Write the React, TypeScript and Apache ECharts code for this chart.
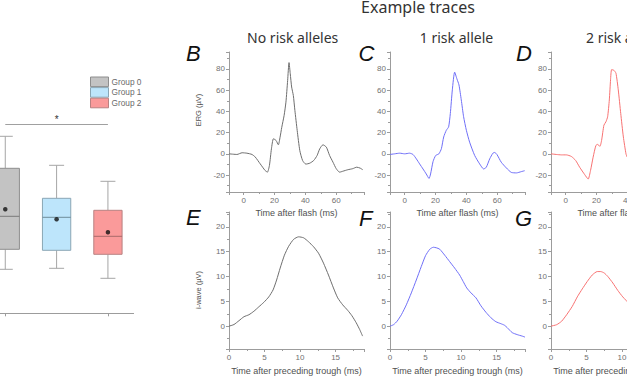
import React, { useEffect, useRef } from "react";
import * as echarts from "echarts";

// ---------- Data ----------
const groupNames = ["Group 0", "Group 1", "Group 2"];
// [lower whisker, Q1, median, Q3, upper whisker]
const boxStats: number[][] = [
  [4.4, 6.4, 9.7, 14.5, 17.7],
  [4.5, 6.3, 9.6, 11.5, 14.8],
  [3.5, 5.9, 7.7, 10.3, 13.2],
];
const groupMeans = [10.4, 9.4, 8.1];
const sigLevel = 18.9;

// ERG traces: [time after flash (ms), ERG (µV)]
const noRiskERG: number[][] = [
  [-9.5, 0], [-4.3, -0.6], [-1, 1], [2.1, 0.6], [5.4, -0.6], [7.5, -3], [10.7, -9.4], [13.9, -15.7],
  [15.4, -17.3], [16.7, -11], [18, 4.7], [19.3, 14.2], [21, 12.6], [22.5, 8.5], [23.6, 15.7],
  [24.7, 25], [26.2, 36], [27.4, 48.7], [28.5, 69], [29.4, 86], [30.2, 75.5], [31.1, 63],
  [32.2, 55], [33.2, 41], [34.7, 22], [36.4, 3], [38.2, -6.3], [40.3, -9.7], [42.9, -8.8],
  [45.4, -6.3], [47.6, -1.6], [49.3, 4.7], [51.4, 8.5], [53.6, 6.3], [55.7, -1.6], [57.9, -7.9],
  [60, -14], [62.2, -17.3], [64.3, -16.4], [67.5, -15], [70.7, -14], [73.3, -12.6], [75.5, -13.5],
  [77.2, -15],
];
const oneRiskERG: number[][] = [
  [-9.5, -0.6], [-6.5, 0], [-3.2, 0.6], [0, 0], [3.2, 0.6], [5.4, -0.6], [7.6, -4.8], [9.7, -9.5],
  [11.9, -14.3], [14, -19], [15.8, -23.2], [16.8, -19], [18.4, -7.3], [20.1, -1.6], [22.2, 0],
  [23.8, 4.8], [25.3, 15.9], [27, 22.2], [28.5, 25.4], [29.6, 38], [30.9, 60.3], [32.4, 77],
  [33.9, 70.5], [35.2, 65], [36.7, 50.8], [38.2, 35], [40, 22.2], [42.1, 11], [45.4, -1.6],
  [48.6, -9.5], [51.2, -14.3], [52.9, -12.7], [55.1, -4.8], [57.2, 0.6], [58.3, 1.3], [59.8, -0.6],
  [62.6, -7.9], [65.9, -13.3], [69.1, -17.5], [72.4, -18], [75.6, -16.8], [77.8, -15.9],
];
const twoRiskERG: number[][] = [
  [-9.5, 0], [-6.1, -0.6], [-2.8, -1], [0.4, -1], [3.7, -2.5], [6.5, -6.3], [9.1, -12.7],
  [12.4, -19.7], [14.6, -23.8], [16.1, -15.9], [17.8, -3.2], [19.6, 7.9], [20.7, 8.9], [22.2, 7],
  [23.3, 12.7], [24.8, 27], [26.1, 30.2], [27.2, 34.9], [28.3, 50.8], [29.1, 69.8], [29.8, 79.4],
  [31.3, 78.7], [32.6, 76], [34.1, 60.3], [35.7, 38], [37.4, 15.9], [39.1, 0], [39.8, -3],
];

// i-wave traces: [time after preceding trough (ms), i-wave (µV)]
const noRiskIwave: number[][] = [
  [0, 0], [0.7, 0.33], [1.4, 1.1], [2.1, 1.9], [2.8, 2.3], [3.5, 3], [4.2, 3.9], [4.9, 4.8],
  [5.6, 5.9], [6.2, 7.3], [6.7, 9.3], [7.2, 11.7], [7.8, 14.3], [8.4, 16.1], [9.1, 17.5],
  [9.8, 18], [10.5, 17.8], [11.2, 17], [11.9, 16], [12.6, 14.7], [13.3, 12.7], [14, 10.3],
  [14.7, 7.7], [15.3, 5.7], [16, 4.3], [16.7, 3.2], [17.3, 2.1], [17.9, 0.7], [18.4, -0.7],
  [18.8, -2],
];
const oneRiskIwave: number[][] = [
  [0, 0], [0.5, 0.3], [1, 1], [1.6, 2.3], [2.3, 4.3], [3, 6.7], [3.7, 9.3], [4.4, 12], [5, 14.2],
  [5.6, 15.5], [6.1, 15.9], [6.5, 15.8], [7, 15.5], [7.7, 14.3], [8.4, 13], [9.1, 11.7],
  [9.8, 10.3], [10.3, 9], [10.8, 7.7], [11.4, 6.7], [12.1, 5.7], [12.8, 4.1], [13.5, 2.8],
  [14.2, 1.7], [14.9, 0.9], [15.6, 0.5], [16.1, 0.2], [16.5, -0.3], [17.2, -1.3], [17.9, -1.7],
  [18.6, -2], [19, -2.2],
];
const twoRiskIwave: number[][] = [
  [0, 0], [0.8, 0.3], [1.5, 1], [2.2, 2.3], [3, 4], [3.7, 5.9], [4.4, 7.5], [5.1, 9], [5.8, 10.3],
  [6.5, 11], [7, 11], [7.5, 10.7], [8, 10], [8.7, 8.7], [9.4, 7.2], [10.1, 5.9], [10.9, 4.7],
];

const ergTicks = { min: -36, max: 96, step: 20 };
const ergTime = { min: -9.5, max: 78, step: 20 };
const iwaveTicks = { min: -4.6, max: 23, step: 5 };
const iwaveTime = { min: 0, max: 19, step: 5 };

// ---------- Styles ----------
const AXIS = "#9c9c9c";
const LABEL = "#707070";
const SANS = "'Liberation Sans', Arial, sans-serif";
const TITLE_FONT = "'Noto Sans', 'Open Sans', sans-serif";
// The figure is cropped on both sides: the chart canvas extends beyond the visible window.
const OFF = 40;
const CANVAS_W = 780;

const boxColors = [
  { fill: "#c3c3c3", stroke: "#8e8e8e", median: "#7a7a7a" },
  { fill: "#bde5fb", stroke: "#8aa6b4", median: "#6f8c9a" },
  { fill: "#fa9a9a", stroke: "#b88282", median: "#a86a6a" },
];

function stepFormatter(step: number) {
  return (v: number) => {
    const r = v / step;
    return Math.abs(r - Math.round(r)) < 1e-6 ? String(Math.round(v)) : "";
  };
}

function valueAxis(gridIndex: number, range: { min: number; max: number; step: number }, name?: string) {
  return {
    type: "value",
    gridIndex,
    min: range.min,
    max: range.max,
    minInterval: range.step,
    maxInterval: range.step,
    splitNumber: 6,
    name: name,
    nameLocation: "middle",
    nameGap: 16,
    nameTextStyle: { fontSize: 9, color: "#505050", fontFamily: SANS },
    axisLine: { show: true, onZero: false, lineStyle: { color: AXIS, width: 1 } },
    axisTick: { show: true, inside: false, length: 3, lineStyle: { color: AXIS } },
    minorTick: { show: true, splitNumber: 2, length: 2, lineStyle: { color: AXIS } },
    splitLine: { show: false },
    minorSplitLine: { show: false },
    axisLabel: {
      color: LABEL,
      fontSize: 8,
      fontFamily: SANS,
      margin: 4,
      formatter: stepFormatter(range.step),
    },
  };
}

export default function App() {
  const ref = useRef<HTMLDivElement>(null);

  useEffect(() => {
    if (!ref.current) return;
    const chart = echarts.init(ref.current, undefined, { renderer: "svg" });

    const colLeft = [229 + OFF, 390 + OFF, 551 + OFF];
    const grids: any[] = [
      { left: -20.4 + OFF, top: 13.3, width: 154, height: 300 },
    ];
    colLeft.forEach((l) => grids.push({ left: l, top: 52, width: 135, height: 140 }));
    colLeft.forEach((l) => grids.push({ left: l, top: 212, width: 135, height: 138 }));

    const xAxes: any[] = [
      {
        type: "category",
        gridIndex: 0,
        data: groupNames,
        boundaryGap: true,
        axisLine: { show: true, lineStyle: { color: AXIS, width: 1 } },
        axisTick: { show: true, alignWithLabel: true, length: 3, lineStyle: { color: AXIS } },
        axisLabel: { show: false },
      },
    ];
    const yAxes: any[] = [
      { type: "value", gridIndex: 0, min: 0, max: 30, show: false, splitLine: { show: false } },
    ];
    for (let i = 0; i < 3; i++) {
      xAxes.push(valueAxis(1 + i, ergTime, "Time after flash (ms)"));
      yAxes.push(valueAxis(1 + i, ergTicks));
    }
    for (let i = 0; i < 3; i++) {
      const ax: any = valueAxis(4 + i, iwaveTime, "Time after preceding trough (ms)");
      ax.nameGap = 17;
      xAxes.push(ax);
      yAxes.push(valueAxis(4 + i, iwaveTicks));
    }

    const traces = [
      { data: noRiskERG, color: "#6e6e6e" },
      { data: oneRiskERG, color: "#6f6ff7" },
      { data: twoRiskERG, color: "#f77272" },
      { data: noRiskIwave, color: "#6e6e6e" },
      { data: oneRiskIwave, color: "#6f6ff7" },
      { data: twoRiskIwave, color: "#f77272" },
    ];

    const boxSeries = groupNames.map((name, i) => ({
      type: "custom",
      name,
      xAxisIndex: 0,
      yAxisIndex: 0,
      itemStyle: { color: boxColors[i].fill, borderColor: boxColors[i].stroke },
      data: [[i, ...boxStats[i]]],
      encode: { x: 0, y: [1, 2, 3, 4, 5] },
      renderItem: (_p: any, api: any) => {
        const c = api.value(0);
        const pLo = api.coord([c, api.value(1)]);
        const pQ1 = api.coord([c, api.value(2)]);
        const pMed = api.coord([c, api.value(3)]);
        const pQ3 = api.coord([c, api.value(4)]);
        const pHi = api.coord([c, api.value(5)]);
        const x = pLo[0];
        const bw = 28.3;
        const cw = 15;
        const wStyle = { stroke: "#a6a6a6", lineWidth: 1 };
        return {
          type: "group",
          children: [
            { type: "line", shape: { x1: x, y1: pHi[1], x2: x, y2: pQ3[1] }, style: wStyle },
            { type: "line", shape: { x1: x, y1: pQ1[1], x2: x, y2: pLo[1] }, style: wStyle },
            { type: "line", shape: { x1: x - cw / 2, y1: pHi[1], x2: x + cw / 2, y2: pHi[1] }, style: wStyle },
            { type: "line", shape: { x1: x - cw / 2, y1: pLo[1], x2: x + cw / 2, y2: pLo[1] }, style: wStyle },
            {
              type: "rect",
              shape: { x: x - bw / 2, y: pQ3[1], width: bw, height: pQ1[1] - pQ3[1] },
              style: { fill: boxColors[i].fill, stroke: boxColors[i].stroke, lineWidth: 1 },
            },
            {
              type: "line",
              shape: { x1: x - bw / 2, y1: pMed[1], x2: x + bw / 2, y2: pMed[1] },
              style: { stroke: boxColors[i].median, lineWidth: 1 },
            },
          ],
        };
      },
    }));

    const meanSeries = {
      type: "scatter",
      name: "mean",
      xAxisIndex: 0,
      yAxisIndex: 0,
      symbol: "circle",
      symbolSize: 4.5,
      itemStyle: { color: "#111" },
      data: groupMeans.map((m, i) => [i, m]),
      z: 5,
      markLine: {
        silent: true,
        symbol: "none",
        lineStyle: { color: "#a0a0a0", width: 1, type: "solid" },
        label: { show: true, position: "middle", formatter: "*", color: "#333", fontSize: 10, distance: 0 },
        data: [[{ coord: [0, sigLevel] }, { coord: [2, sigLevel] }]],
      },
    };

    const lineSeries = traces.map((t, i) => ({
      type: "line",
      xAxisIndex: 1 + i,
      yAxisIndex: 1 + i,
      data: t.data,
      showSymbol: false,
      smooth: 0.2,
      lineStyle: { color: t.color, width: 1 },
      itemStyle: { color: t.color },
    }));

    const txt = (text: string, x: number, y: number, extra: any = {}) => ({
      type: "text",
      x: x + OFF,
      y,
      style: {
        text,
        fill: "#333",
        font: `14px ${TITLE_FONT}`,
        textAlign: "center",
        textVerticalAlign: "middle",
        ...extra,
      },
    });
    const letter = (t: string, x: number, y: number) =>
      txt(t, x, y, { font: `italic 22px ${SANS}`, fill: "#111", textAlign: "left" });

    const graphic: any[] = [
      txt("Example traces", 418, 6.5, { font: `16px ${TITLE_FONT}` }),
      txt("No risk alleles", 292.7, 37.3),
      txt("1 risk allele", 456.5, 37.3),
      txt("2 risk alleles", 586, 37.3, { textAlign: "left" }),
      letter("B", 186, 53),
      letter("C", 358.5, 53),
      letter("D", 516, 53),
      letter("E", 186, 217),
      letter("F", 359, 218),
      letter("G", 515, 218),
      {
        type: "text",
        x: 198.3 + OFF,
        y: 110,
        rotation: Math.PI / 2,
        style: { text: "ERG (µV)", fill: "#505050", font: `7.5px ${SANS}`, textAlign: "center", textVerticalAlign: "middle" },
      },
      {
        type: "text",
        x: 198.3 + OFF,
        y: 290,
        rotation: Math.PI / 2,
        style: { text: "i-wave (µV)", fill: "#505050", font: `7.5px ${SANS}`, textAlign: "center", textVerticalAlign: "middle" },
      },
    ];

    chart.setOption({
      animation: false,
      backgroundColor: "#ffffff",
      grid: grids,
      xAxis: xAxes,
      yAxis: yAxes,
      legend: {
        data: groupNames.map((n, i) => ({
          name: n,
          icon: "rect",
          itemStyle: { color: boxColors[i].fill, borderColor: boxColors[i].stroke, borderWidth: 1 },
        })),
        orient: "vertical",
        left: 90 + OFF,
        top: 76.5,
        itemWidth: 18,
        itemHeight: 9.6,
        itemGap: 0,
        padding: 0,
        selectedMode: false,
        textStyle: { fontSize: 8.3, color: "#6a6a6a", fontFamily: SANS, padding: [0, 0, 0, -2] },
      },
      series: [...boxSeries, meanSeries, ...lineSeries],
      graphic,
    });

    return () => chart.dispose();
  }, []);

  return (
    <div style={{ position: "absolute", left: 0, top: 0, width: 627, height: 376, overflow: "hidden", background: "#fff" }}>
      <div
        ref={ref}
        style={{ position: "absolute", left: -OFF, top: 0, width: CANVAS_W, height: 376 }}
      />
    </div>
  );
}
